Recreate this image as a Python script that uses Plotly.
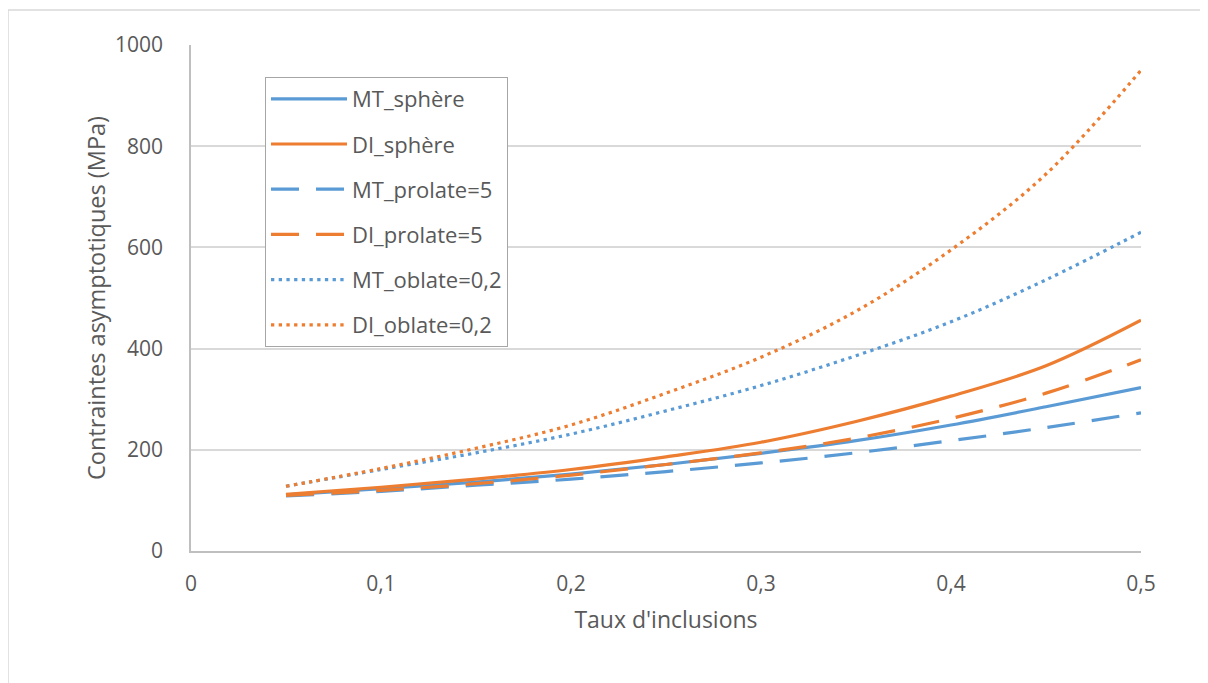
import plotly.graph_objects as go

x = [0.05, 0.1, 0.15, 0.2, 0.25, 0.3, 0.35, 0.4, 0.45, 0.5]
mt_sphere = [111, 123, 136, 152, 171, 193, 218, 249, 285, 323]
di_sphere = [112, 126, 142, 161, 186, 215, 256, 306, 366, 456]
mt_prolate = [109, 118, 130, 142, 157, 174, 194, 218, 244, 273]
di_prolate = [110, 120, 133, 150, 171, 194, 223, 262, 312, 378]
mt_oblate = [128, 161, 194, 231, 277, 327, 386, 453, 536, 630]
di_oblate = [128, 163, 203, 249, 312, 383, 474, 595, 745, 950]

names = ["MT_sphère", "DI_sphère", "MT_prolate=5", "DI_prolate=5", "MT_oblate=0,2", "DI_oblate=0,2"]
series = [mt_sphere, di_sphere, mt_prolate, di_prolate, mt_oblate, di_oblate]
x_ticks = [0, 0.1, 0.2, 0.3, 0.4, 0.5]
x_tick_labels = ["0", "0,1", "0,2", "0,3", "0,4", "0,5"]
y_ticks = [0, 200, 400, 600, 800, 1000]

BLUE = "#5B9BD5"
ORANGE = "#ED7D31"
colors = [BLUE, ORANGE, BLUE, ORANGE, BLUE, ORANGE]
dashes = ["solid", "solid", "28px,17px", "28px,17px", "3.3px,4.4px", "3.3px,4.4px"]

FONT = "'Open Sans', Lato, sans-serif"
TXT = "#595959"

fig = go.Figure()
for i, (n, s) in enumerate(zip(names, series)):
    fig.add_trace(go.Scatter(
        x=x, y=s, name=n, mode="lines", legendgroup=f"g{i}",
        line=dict(color=colors[i], width=3.2, dash=dashes[i], shape="spline"),
    ))

# page body has an 8px margin, so the figure is drawn at (8, 8)
fig.update_layout(
    width=1200, height=675,
    margin=dict(l=183, r=67, t=37, b=132),
    paper_bgcolor="white", plot_bgcolor="white",
    font=dict(family=FONT, size=21, color=TXT),
    showlegend=True,
    legend=dict(
        x=0.0779, y=0.9368, xanchor="left", yanchor="top",
        bordercolor="#a6a6a6", borderwidth=1, bgcolor="white",
        font=dict(family=FONT, size=22, color=TXT),
        tracegroupgap=13.6, itemwidth=76,
    ),
    xaxis=dict(
        range=[0, 0.5], tickvals=x_ticks, ticktext=x_tick_labels,
        showgrid=False, zeroline=False, showline=True, linecolor="#bfbfbf", linewidth=1.5,
        ticks="", ticklabelstandoff=13,
        title=dict(text="Taux d'inclusions", font=dict(size=23, color=TXT), standoff=16),
    ),
    yaxis=dict(
        range=[0, 1000], tickvals=y_ticks,
        showgrid=True, gridcolor="#d9d9d9", gridwidth=1.5,
        zeroline=False, showline=True, linecolor="#bfbfbf", linewidth=1.5,
        ticks="", ticklabelstandoff=22,
        title=dict(text="Contraintes asymptotiques (MPa)", font=dict(size=23.5, color=TXT), standoff=3),
    ),
    shapes=[dict(
        type="rect", xref="paper", yref="paper",
        x0=(8 - 191) / 950, x1=(1260 - 191) / 950,
        y0=(551 - 740) / 506, y1=1 + (45 - 10) / 506,
        line=dict(color="#d9d9d9", width=1.5), fillcolor="rgba(0,0,0,0)", layer="below",
    )],
)

fig.write_html("out.html")
